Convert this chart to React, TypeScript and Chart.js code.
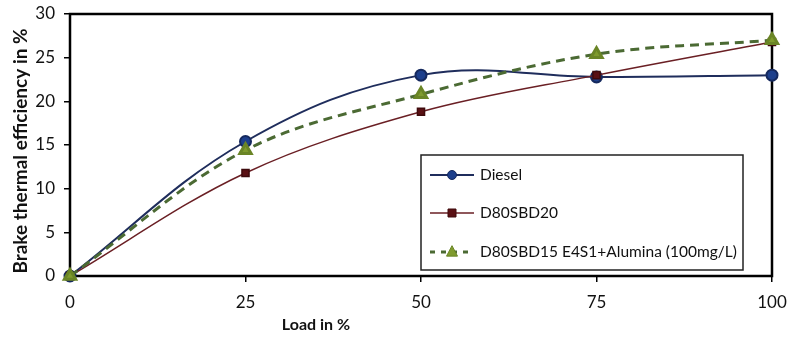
import React, { useEffect, useRef } from "react";
import { Chart, registerables } from "chart.js";

Chart.register(...registerables);

const loads = [0, 25, 50, 75, 100];
const dieselValues = [0, 15.4, 23.0, 22.8, 23.0];
const d80sbd20Values = [0, 11.8, 18.8, 23.0, 26.8];
const aluminaValues = [0, 14.4, 20.8, 25.4, 27.0];
const seriesNames = ["Diesel", "D80SBD20", "D80SBD15 E4S1+Alumina (100mg/L)"];
const xTitle = "Load in %";
const yTitle = "Brake thermal efficiency in %";

const FONT = "Lato, 'Open Sans', sans-serif";

function drawMarker(ctx: CanvasRenderingContext2D, style: string, x: number, y: number, r: number, fill: string, stroke: string) {
  ctx.save();
  ctx.setLineDash([]);
  ctx.fillStyle = fill;
  ctx.strokeStyle = stroke;
  ctx.lineWidth = 1;
  ctx.beginPath();
  if (style === "circle") {
    ctx.arc(x, y, r, 0, Math.PI * 2);
  } else if (style === "rect") {
    ctx.rect(x - r, y - r, r * 2, r * 2);
  } else {
    ctx.moveTo(x, y - r * 1.15);
    ctx.lineTo(x + r, y + r * 0.75);
    ctx.lineTo(x - r, y + r * 0.75);
    ctx.closePath();
  }
  ctx.fill();
  ctx.stroke();
  ctx.restore();
}

const framePlugin = {
  id: "frame",
  beforeDatasetsDraw(chart: any) {
    const { ctx, chartArea } = chart;
    ctx.save();
    ctx.strokeStyle = "#000";
    ctx.lineWidth = 2.5;
    ctx.strokeRect(chartArea.left, chartArea.top, chartArea.right - chartArea.left, chartArea.bottom - chartArea.top);
    ctx.restore();
  },
  afterDraw(chart: any) {
    const { ctx, chartArea } = chart;
    ctx.save();
    // axis titles
    ctx.fillStyle = "#111";
    ctx.textAlign = "center";
    ctx.textBaseline = "middle";
    ctx.font = `bold 16px ${FONT}`;
    ctx.fillText(xTitle, 316, 325);
    ctx.save();
    ctx.translate(21, 151);
    ctx.rotate(-Math.PI / 2);
    ctx.font = `bold 19px ${FONT}`;
    ctx.fillText(yTitle, 0, 0);
    ctx.restore();

    // legend
    const bx = 421, by = 155, bw = 322, bh = 115;
    ctx.fillStyle = "#fff";
    ctx.fillRect(bx, by, bw, bh);
    ctx.strokeStyle = "#222";
    ctx.lineWidth = 1.5;
    ctx.strokeRect(bx, by, bw, bh);
    const rows = [175, 213, 252];
    chart.data.datasets.forEach((ds: any, i: number) => {
      const y = rows[i];
      ctx.save();
      ctx.strokeStyle = ds.borderColor;
      ctx.lineWidth = ds.borderWidth;
      ctx.setLineDash(ds.borderDash ? [5, 6] : []);
      ctx.beginPath();
      ctx.moveTo(430, y);
      ctx.lineTo(474, y);
      ctx.stroke();
      ctx.restore();
      drawMarker(ctx, ds.pointStyle, 452, y, ds.pointRadius - 1, ds.pointBackgroundColor, ds.pointBorderColor);
      ctx.fillStyle = "#111";
      ctx.font = `15.5px ${FONT}`;
      ctx.textAlign = "left";
      ctx.textBaseline = "middle";
      ctx.fillText(ds.label, 480, y);
    });
    ctx.restore();
  },
};

export default function App() {
  const canvasRef = useRef<HTMLCanvasElement | null>(null);

  useEffect(() => {
    document.body.style.margin = "0";
    const canvas = canvasRef.current;
    if (!canvas) return;
    const toXY = (vals: number[]) => loads.map((x, i) => ({ x, y: vals[i] }));
    const chart = new Chart(canvas, {
      type: "line",
      data: {
        datasets: [
          {
            label: seriesNames[0],
            data: toXY(dieselValues),
            borderColor: "#1f2d5c",
            borderWidth: 2,
            pointStyle: "circle",
            pointRadius: 5.5,
            pointBackgroundColor: "#1d3f8c",
            pointBorderColor: "#15295e",
            tension: 0.38,
            order: 3,
            clip: false,
          } as any,
          {
            label: seriesNames[1],
            data: toXY(d80sbd20Values),
            borderColor: "#6a1f24",
            borderWidth: 1.5,
            pointStyle: "rect",
            pointRadius: 5,
            pointBackgroundColor: "#5a1014",
            pointBorderColor: "#3e0a0c",
            tension: 0.35,
            order: 2,
            clip: false,
          } as any,
          {
            label: seriesNames[2],
            data: toXY(aluminaValues),
            borderColor: "#4b6a33",
            borderWidth: 3,
            borderDash: [9, 6],
            pointStyle: "triangle",
            pointRadius: 6.5,
            pointBackgroundColor: "#7f9b2e",
            pointBorderColor: "#6a8526",
            tension: 0.35,
            order: 1,
            clip: false,
          } as any,
        ],
      },
      options: {
        animation: false,
        responsive: false,
        maintainAspectRatio: false,
        layout: { padding: { top: 14, right: 16, left: 0, bottom: 0 } },
        plugins: {
          legend: { display: false },
          tooltip: { enabled: false },
        },
        scales: {
          x: {
            type: "linear",
            min: 0,
            max: 100,
            afterFit: (s: any) => { s.height = 65; s.paddingLeft = 0; s.paddingRight = 0; },
            afterBuildTicks: (s: any) => { s.ticks = loads.map((v) => ({ value: v })); },
            ticks: {
              color: "#111",
              font: { family: FONT, size: 17 },
              padding: 10,
              maxRotation: 0,
            },
            grid: { drawOnChartArea: false, drawTicks: true, tickLength: 6, color: "#000", lineWidth: 1.5 },
            border: { display: false },
          },
          y: {
            min: 0,
            max: 30,
            afterFit: (s: any) => { s.width = 70; s.paddingTop = 0; s.paddingBottom = 0; },
            ticks: {
              stepSize: 5,
              color: "#111",
              font: { family: FONT, size: 17 },
              padding: 9,
            },
            grid: { drawOnChartArea: false, drawTicks: true, tickLength: 6, color: "#000", lineWidth: 1.5 },
            border: { display: false },
          },
        },
      },
      plugins: [framePlugin],
    });
    return () => chart.destroy();
  }, []);

  return (
    <div style={{ width: 788, height: 341 }}>
      <canvas ref={canvasRef} width={788} height={341} style={{ display: "block" }} />
    </div>
  );
}
